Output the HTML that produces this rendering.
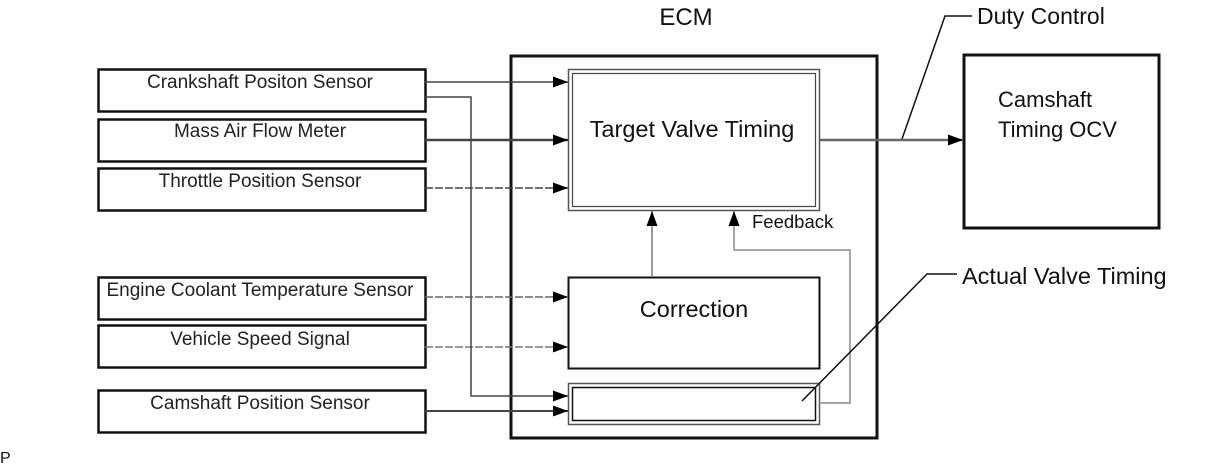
<!DOCTYPE html>
<html><head><meta charset="utf-8"><style>
html,body{margin:0;padding:0;background:#fff;}
svg{display:block;font-family:"Liberation Sans",Arial,sans-serif;}
</style></head><body>
<svg width="1210" height="466" viewBox="0 0 1210 466" xmlns="http://www.w3.org/2000/svg">
<defs>
<marker id="a" markerWidth="15" markerHeight="11" refX="15" refY="5.5" orient="auto" markerUnits="userSpaceOnUse">
<path d="M0,0 L15,5.5 L0,11 Z" fill="#000"/></marker>
</defs>
<g fill="none" stroke="#111">
<rect x="98.5" y="69.5" width="327" height="42" stroke-width="2.5"/>
<rect x="98.5" y="119.5" width="327" height="42" stroke-width="2.5"/>
<rect x="98.5" y="168.5" width="327" height="42" stroke-width="2.5"/>
<rect x="98.5" y="277.5" width="327" height="42" stroke-width="2.5"/>
<rect x="98.5" y="325.5" width="327" height="42" stroke-width="2.5"/>
<rect x="98.5" y="390.5" width="327" height="42" stroke-width="2.5"/>
<rect x="511" y="56" width="366" height="382" stroke-width="3"/>
<rect x="568.5" y="69.5" width="251" height="141" stroke-width="1.5" stroke="#555"/>
<rect x="572.5" y="73.5" width="243" height="133" stroke-width="1.2" stroke="#444"/>
<rect x="568.5" y="277.5" width="251" height="91" stroke-width="2"/>
<rect x="568.5" y="383.5" width="251" height="41" stroke-width="1.5" stroke="#555"/>
<rect x="572.5" y="387.5" width="243" height="33" stroke-width="1.5"/>
<rect x="964" y="55" width="195" height="173" stroke-width="3"/>
</g>
<g stroke="#444" stroke-width="1.5" fill="none">
<line x1="425" y1="82" x2="568" y2="82" marker-end="url(#a)"/>
<line x1="425" y1="140" x2="568" y2="140" stroke-width="2.5" marker-end="url(#a)"/>
<line x1="425" y1="188" x2="568" y2="188" stroke-dasharray="8 2" marker-end="url(#a)"/>
<line x1="425" y1="297" x2="568" y2="297" stroke-dasharray="8 2" stroke="#666" marker-end="url(#a)"/>
<line x1="425" y1="347" x2="568" y2="347" stroke-dasharray="8 2" stroke="#777" marker-end="url(#a)"/>
<polyline points="425,97 471,97 471,396 568,396" marker-end="url(#a)"/>
<line x1="425" y1="411" x2="568" y2="411" stroke-width="2" marker-end="url(#a)"/>
<line x1="652" y1="277" x2="652" y2="211" stroke="#777" marker-end="url(#a)"/>
<polyline points="819,403 850,403 850,250 734,250 734,211" stroke="#888" marker-end="url(#a)"/>
<line x1="820" y1="140" x2="963" y2="140" stroke="#666" stroke-width="2.5" marker-end="url(#a)"/>
</g>
<g stroke="#111" stroke-width="1.5" fill="none">
<polyline points="902,139 945,16 972,16"/>
<polyline points="802,401 927,274 957,274"/>
</g>
<g fill="#222" font-size="19" text-anchor="middle">
<text x="260" y="88">Crankshaft Positon Sensor</text>
<text x="260" y="137">Mass Air Flow Meter</text>
<text x="260" y="187">Throttle Position Sensor</text>
<text x="260" y="296">Engine Coolant Temperature Sensor</text>
<text x="260" y="345">Vehicle Speed Signal</text>
<text x="260" y="409">Camshaft Position Sensor</text>
</g>
<g fill="#111">
<text x="692" y="137" text-anchor="middle" font-size="23.5">Target Valve Timing</text>
<text x="694" y="317" text-anchor="middle" font-size="23.5">Correction</text>
<text x="998" y="107" font-size="22">Camshaft</text>
<text x="998" y="137" font-size="22">Timing OCV</text>
<text x="686" y="25" text-anchor="middle" font-size="24">ECM</text>
<text x="977" y="24" font-size="23">Duty Control</text>
<text x="962" y="284" font-size="23.5">Actual Valve Timing</text>
<text x="752" y="228" font-size="18.5">Feedback</text>
<text x="0" y="463" font-size="16">P</text>
</g>
</svg>
</body></html>
